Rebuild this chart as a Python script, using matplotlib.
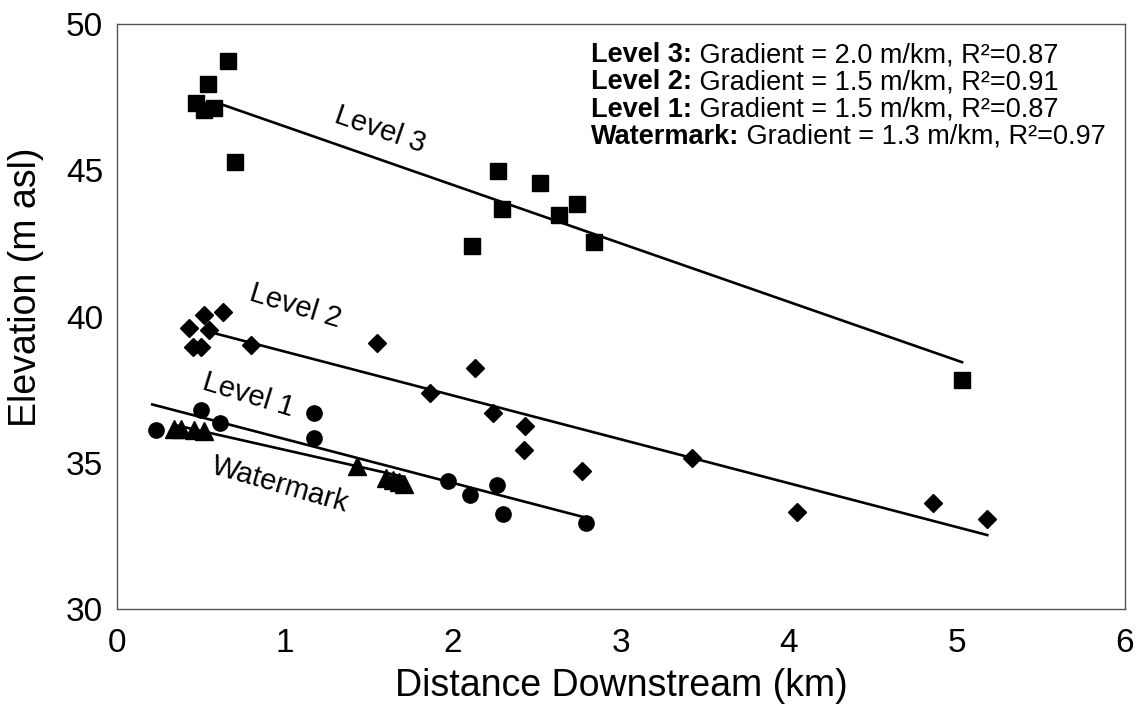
import numpy as np
import matplotlib.pyplot as plt
from matplotlib.transforms import offset_copy

plt.rcParams['font.family'] = ['Liberation Sans', 'DejaVu Sans']

# terrace / watermark survey points (km downstream, m asl)
lvl3_x = [0.66, 0.54, 0.47, 0.52, 0.58, 0.70, 2.27, 2.52, 2.29, 2.63, 2.74, 2.11, 2.84, 5.03]
lvl3_y = [48.74, 47.95, 47.30, 47.06, 47.13, 45.28, 44.97, 44.56, 43.67, 43.47, 43.85, 42.41, 42.55, 37.83]

lvl2_x = [0.63, 0.52, 0.43, 0.55, 0.45, 0.50, 0.80, 1.55, 2.13, 1.86, 2.24, 2.43, 2.42, 2.77, 3.42, 4.05, 4.86, 5.18]
lvl2_y = [40.15, 40.05, 39.60, 39.54, 38.96, 38.96, 39.03, 39.09, 38.24, 37.38, 36.70, 36.26, 35.44, 34.72, 35.16, 33.32, 33.62, 33.08]

lvl1_x = [0.23, 0.50, 0.61, 1.17, 1.17, 1.97, 2.10, 2.26, 2.30, 2.79]
lvl1_y = [36.12, 36.80, 36.36, 36.70, 35.85, 34.38, 33.90, 34.24, 33.25, 32.94]

wm_x = [0.34, 0.38, 0.46, 0.52, 1.43, 1.60, 1.64, 1.68, 1.71]
wm_y = [36.15, 36.15, 36.13, 36.10, 34.90, 34.48, 34.41, 34.34, 34.27]

# regression lines: gradient (m/km), intercept, x extent
names = ['Level 3', 'Level 2', 'Level 1', 'Watermark']
gradients = [2.0, 1.5, 1.5, 1.3]
intercepts = [48.50, 40.30, 37.31, 36.74]
x_start = [0.62, 0.57, 0.21, 0.35]
x_end = [5.03, 5.18, 2.79, 1.70]
r2 = [0.87, 0.91, 0.87, 0.97]

fig = plt.figure(figsize=(11.44, 7.09), dpi=100)
ax = fig.add_axes([0.1023, 0.141, 0.8811, 0.825])

ax.plot(lvl3_x, lvl3_y, 's', color='black', ms=11, zorder=3)
ax.plot(lvl2_x, lvl2_y, 'D', color='black', ms=9.5, zorder=3)
ax.plot(lvl1_x, lvl1_y, 'o', color='black', ms=11, zorder=3)
ax.plot(wm_x, wm_y, '^', color='black', ms=12.5, zorder=3)

for g, b, x0, x1 in zip(gradients, intercepts, x_start, x_end):
    xs = np.array([x0, x1])
    ax.plot(xs, b - g * xs, color='black', lw=1.9, zorder=2)

# line labels
lab_fs = 21
ax.text(1.565, 46.38, 'Level 3', rotation=-19, fontsize=lab_fs, ha='center', va='center')
ax.text(1.06, 40.36, 'Level 2', rotation=-17, fontsize=lab_fs, ha='center', va='center')
ax.text(0.78, 37.32, 'Level 1', rotation=-17, fontsize=lab_fs, ha='center', va='center')
ax.text(0.97, 34.24, 'Watermark', rotation=-16, fontsize=lab_fs, ha='center', va='center')

ax.set_xlim(0, 6)
ax.set_ylim(30, 50)
ax.set_xticks(range(0, 7))
ax.set_yticks(range(30, 51, 5))
ax.tick_params(length=0, labelsize=24)
ax.tick_params(axis='x', pad=14)
ax.tick_params(axis='y', pad=10)
for s in ax.spines.values():
    s.set_color('#555555')
    s.set_linewidth(1.0)

ax.set_xlabel('Distance Downstream (km)', fontsize=27, labelpad=6)
ax.set_ylabel('Elevation (m asl)', fontsize=27)
ax.yaxis.set_label_coords(-0.072, 0.55)

# regression summary, bold name followed by plain text
fig.canvas.draw()
renderer = fig.canvas.get_renderer()
y0 = 48.70
for i, (n, g, r) in enumerate(zip(names, gradients, r2)):
    yy = y0 - i * 0.93
    t = ax.text(2.82, yy, n + ':', fontsize=19.5, fontweight='bold',
                ha='left', va='baseline')
    w = t.get_window_extent(renderer).width
    tr = offset_copy(ax.transData, fig=fig, x=w, y=0, units='dots')
    ax.text(2.82, yy, ' Gradient = %.1f m/km, R\u00b2=%.2f' % (g, r),
            fontsize=19.5, ha='left', va='baseline', transform=tr)

fig.savefig('out.png', dpi=100)
